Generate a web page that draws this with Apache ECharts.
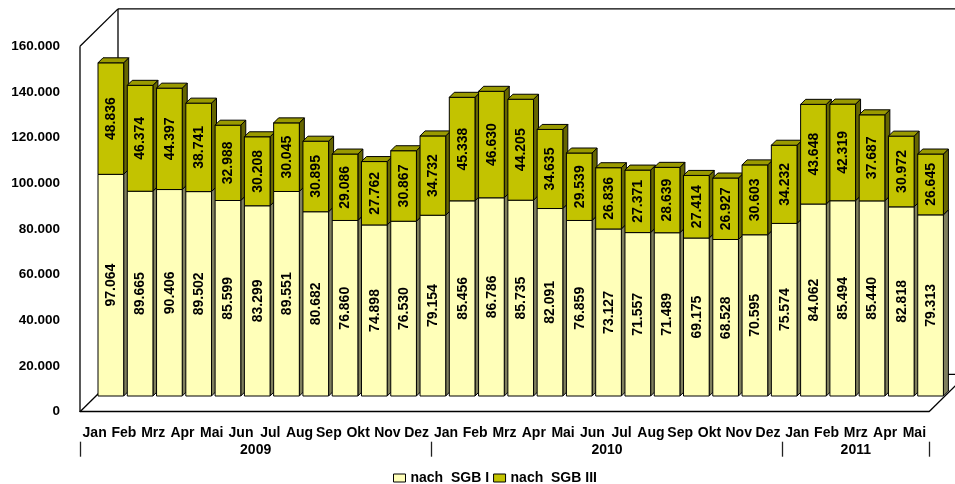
<!DOCTYPE html>
<html>
<head>
<meta charset="utf-8">
<script src="https://cdn.jsdelivr.net/npm/echarts@6/dist/echarts.min.js"></script>
<style>html,body{margin:0;padding:0;background:#fff}#c{width:955px;height:484px}</style>
</head>
<body>
<div id="c"></div>
<script>
// ---- data ----
var months = ['Jan','Feb','Mrz','Apr','Mai','Jun','Jul','Aug','Sep','Okt','Nov','Dez',
              'Jan','Feb','Mrz','Apr','Mai','Jun','Jul','Aug','Sep','Okt','Nov','Dez',
              'Jan','Feb','Mrz','Apr','Mai'];
var years = ['2009','2010','2011'];
var yearStarts = [0, 12, 24, 29];
var sgb1 = [97064,89665,90406,89502,85599,83299,89551,80682,76860,74898,76530,79154,
            85456,86786,85735,82091,76859,73127,71557,71489,69175,68528,70595,75574,
            84062,85494,85440,82818,79313];
var sgb3 = [48836,46374,44397,38741,32988,30208,30045,30895,29086,27762,30867,34732,
            45338,46630,44205,34635,29539,26836,27371,28639,27414,26927,30603,34232,
            43648,42319,37687,30972,26645];
var seriesNames = ['nach  SGB I', 'nach  SGB III'];
var yTicks = [0,20000,40000,60000,80000,100000,120000,140000,160000];

// ---- layout / style ----
var FONT = 'Liberation Sans, Arial, sans-serif';
var front = {left: 80, top: 46.3, right: 929, bottom: 411.7};
var depth = {dx: 38, dy: -37.4};
var barShift = {dx: 16.2, dy: -15.7};
var cap = 5;
var colors = {
  f1: '#FFFFB9', s1: '#7F7F5E',
  f3: '#C3C300', s3: '#666600', t3: '#9A9A00'
};

function fmt(v){ return String(v).replace(/\B(?=(\d{3})+(?!\d))/g, '.'); }

var chart = echarts.init(document.getElementById('c'), null, {renderer: 'canvas'});

var fw = front.right - front.left, fh = front.bottom - front.top;
var data = months.map(function(m, i){ return [i, sgb1[i], sgb3[i]]; });

function renderItem(params, api) {
  var i = api.value(0), a = api.value(1), b = api.value(2);
  var p0 = api.coord([i, 0]), p1 = api.coord([i, a]), p2 = api.coord([i, a + b]);
  var bw = api.size([1, 0])[0] * 0.877;
  var cx = p0[0];
  var x0 = cx - bw / 2, x1 = cx + bw / 2;
  var y0 = p0[1], y1 = p1[1], y2 = p2[1];
  var ls = {stroke: '#000', lineWidth: 1};
  function poly(pts, fill){ return {type:'polygon', shape:{points:pts}, style:Object.assign({fill:fill}, ls)}; }
  function rect(x, y, w, h, fill){ return {type:'rect', shape:{x:x,y:y,width:w,height:h}, style:Object.assign({fill:fill}, ls)}; }
  function label(v, yc){
    return {type:'text', x: cx + 0.5, y: yc, rotation: Math.PI / 2,
      style:{text: fmt(v), align:'center', verticalAlign:'middle', fill:'#000', font:'bold 14px ' + FONT}};
  }
  return {type:'group', children:[
    poly([[x1,y0],[x1+cap,y0-cap],[x1+cap,y1-cap],[x1,y1]], colors.s1),
    rect(x0, y1, bw, y0 - y1, colors.f1),
    poly([[x1,y1],[x1+cap,y1-cap],[x1+cap,y2-cap],[x1,y2]], colors.s3),
    rect(x0, y2, bw, y1 - y2, colors.f3),
    poly([[x0,y2],[x0+cap,y2-cap],[x1+cap,y2-cap],[x1,y2]], colors.t3),
    label(a, (y0 + y1) / 2),
    label(b, (y1 + y2) / 2)
  ]};
}

var bx = front.left + depth.dx, by = front.top + depth.dy;
var bb = front.bottom + depth.dy, br = front.right + depth.dx;
function line(x1, y1, x2, y2){
  return {type:'line', z: 0, shape:{x1:x1,y1:y1,x2:x2,y2:y2}, style:{stroke:'#000', lineWidth:1.3}};
}

var option = {
  animation: false,
  backgroundColor: '#fff',
  textStyle: {fontFamily: FONT},
  graphic: [
    line(front.left, front.top, front.left, front.bottom),
    line(front.left, front.top, bx, by),
    line(bx, by, 960, by),
    line(bx, by, bx, bb),
    line(front.left, front.bottom, bx, bb),
    line(bx, bb, br, bb),
    line(front.right, front.bottom, br, bb)
  ],
  legend: {
    data: seriesNames,
    left: 388,
    top: 466,
    itemWidth: 12, itemHeight: 8, itemGap: 4,
    icon: 'rect',
    itemStyle: {borderColor: '#000', borderWidth: 1},
    textStyle: {fontFamily: FONT, fontWeight: 'bold', fontSize: 14, color: '#000'}
  },
  grid: [
    {left: front.left, top: front.top, width: fw, height: fh},
    {left: front.left + barShift.dx, top: front.top + barShift.dy, width: fw, height: fh}
  ],
  xAxis: [
    {type:'category', gridIndex:0, data: months, boundaryGap: true,
     axisLine:{show:true, lineStyle:{color:'#000', width:1.3}},
     axisTick:{show:false},
     axisLabel:{interval:0, margin:14, color:'#000', fontWeight:'bold', fontSize:14, fontFamily:FONT}},
    {type:'value', gridIndex:0, min:0, max:months.length, position:'bottom', offset:30,
     splitLine:{show:false},
     axisLine:{show:false},
     axisTick:{show:true, length:15, customValues: yearStarts, lineStyle:{color:'#222', width:1.3}},
     axisLabel:{margin:1, color:'#000', fontWeight:'bold', fontSize:14, fontFamily:FONT,
       customValues: years.map(function(y, k){ return (yearStarts[k] + yearStarts[k+1]) / 2; }),
       formatter: function(v){
         for (var k = 0; k < years.length; k++) {
           if (Math.abs(v - (yearStarts[k] + yearStarts[k+1]) / 2) < 1e-6) return years[k];
         }
         return '';
       }}},
    {type:'category', gridIndex:1, data: months, show:false, boundaryGap:true}
  ],
  yAxis: [
    {type:'value', gridIndex:0, min:yTicks[0], max:yTicks[yTicks.length-1], interval:yTicks[1]-yTicks[0],
     axisLine:{show:false}, axisTick:{show:false}, splitLine:{show:false},
     axisLabel:{margin:20, color:'#000', fontWeight:'bold', fontSize:13.5, fontFamily:FONT, formatter: fmt}},
    {type:'value', gridIndex:1, min:yTicks[0], max:yTicks[yTicks.length-1], show:false, splitLine:{show:false}}
  ],
  series: [
    {type:'custom', xAxisIndex:2, yAxisIndex:1, z:2, renderItem: renderItem, data: data,
     encode:{x:0, y:[1,2]}, clip:false, silent:true},
    {type:'bar', name: seriesNames[0], xAxisIndex:2, yAxisIndex:1, data:[], itemStyle:{color:colors.f1}},
    {type:'bar', name: seriesNames[1], xAxisIndex:2, yAxisIndex:1, data:[], itemStyle:{color:colors.f3}}
  ]
};
chart.setOption(option);
</script>
</body>
</html>
